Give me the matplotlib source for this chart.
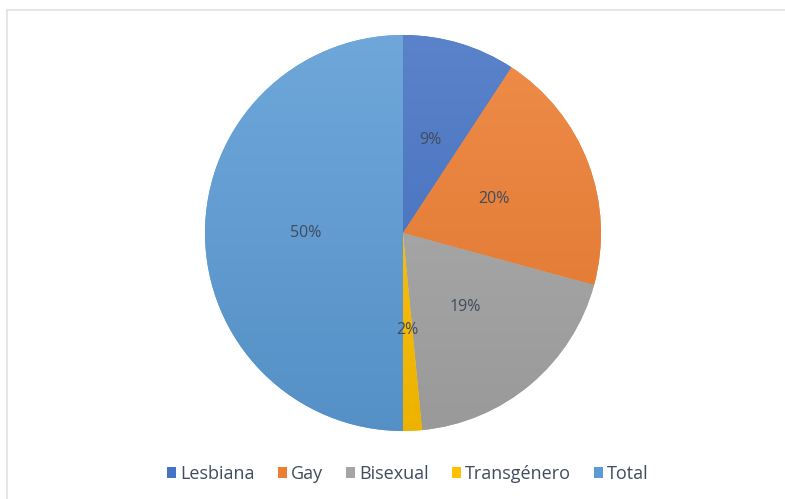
import numpy as np
import matplotlib
matplotlib.use('Agg')
import matplotlib.pyplot as plt
from matplotlib.colors import LinearSegmentedColormap, to_rgb
from matplotlib.patches import Rectangle

plt.rcParams['font.family'] = ['Open Sans', 'DejaVu Sans']

# -------- data ------------------
categorias = ['Lesbiana', 'Gay', 'Bisexual', 'Transgénero', 'Total']
valores = [12, 26, 25, 2, 65]
colores = ['#4472C4', '#ED7D31', '#A5A5A5', '#FFC000', '#5B9BD5']

W, H = 785, 499
fig = plt.figure(figsize=(W/100, H/100), dpi=100)
fig.patch.set_facecolor('white')

# chart area border
fig.add_artist(Rectangle((7/W, -0.01), 1.0, 1 - 10/H + 0.01, transform=fig.transFigure,
                         fill=False, edgecolor='#DDE1E6', lw=1.2))

# pie: centre (403,233), radius 198 px
cx, cy, r = 403, 233, 198
ax = fig.add_axes([(cx - r)/W, (H - cy - r)/H, 2*r/W, 2*r/H])

wedges, texts, autotexts = ax.pie(valores, colors=colores, startangle=90, counterclock=False,
                                  autopct='%1.0f%%', pctdistance=0.49,
                                  textprops=dict(color='#404B5C', fontsize=11.5))
ax.set_aspect('equal')

# subtle vertical gradient on each slice, like the office-style fill
grad = np.linspace(0, 1, 256).reshape(-1, 1)
for w, c in zip(wedges, colores):
    base = np.array(to_rgb(c))
    top = base + (1 - base) * 0.12
    bot = base * 0.93
    cmap = LinearSegmentedColormap.from_list('g', [bot, top])
    im = ax.imshow(grad, cmap=cmap, extent=(-1, 1, -1, 1), origin='lower',
                   aspect='auto', zorder=1.5)
    im.set_clip_path(w)
for t in autotexts:
    t.set_zorder(3)
ax.set_xlim(-1, 1)
ax.set_ylim(-1, 1)
ax.axis('off')

leg = fig.legend(wedges, categorias, loc='center', bbox_to_anchor=(408/W, 1 - 474/H),
                 ncol=5, frameon=False, fontsize=13, handlelength=0.5, handleheight=0.5,
                 handletextpad=0.25, columnspacing=1.25)
for t in leg.get_texts():
    t.set_color('#404B5C')

fig.savefig('out.png', dpi=100)
